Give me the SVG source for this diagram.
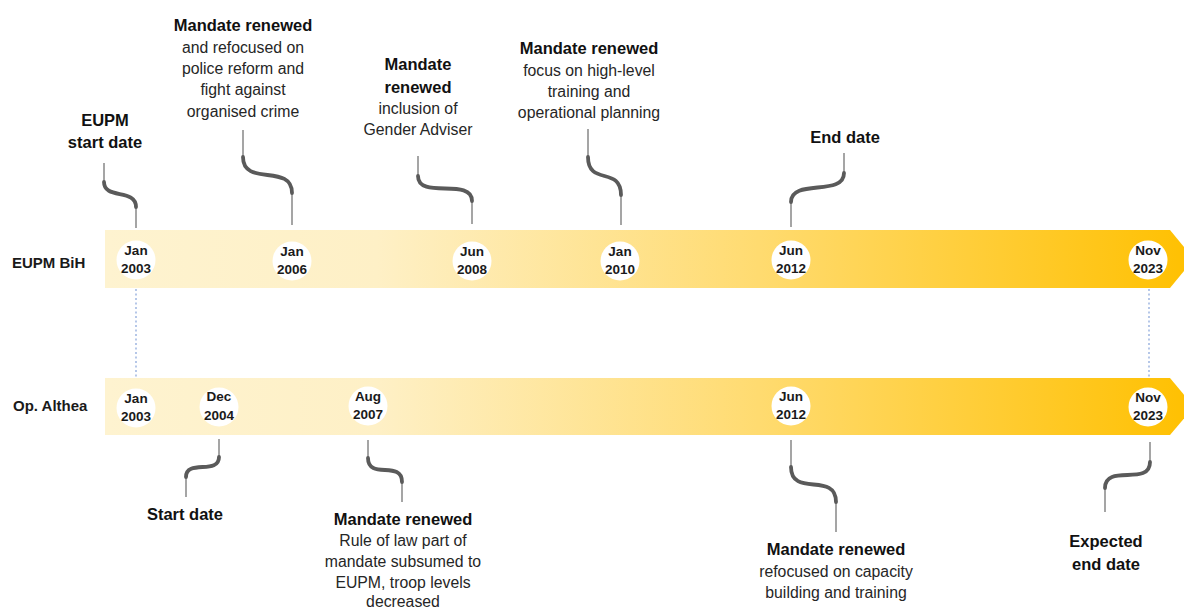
<svg xmlns="http://www.w3.org/2000/svg" width="1184" height="610" viewBox="0 0 1184 610">
<defs>
<linearGradient id="bar" x1="105" y1="0" x2="1194" y2="0" gradientUnits="userSpaceOnUse">
<stop offset="0" stop-color="#fef3d0"/>
<stop offset="0.25" stop-color="#fef0c6"/>
<stop offset="0.6" stop-color="#ffdb70"/>
<stop offset="1" stop-color="#ffc000"/>
</linearGradient>
<style>
.bar{fill:url(#bar)}
.dot{fill:#ffffff}
.date{font-family:"Liberation Sans",Arial,sans-serif;font-weight:bold;font-size:13.5px;fill:#1a1a1a;text-anchor:middle}
.row{font-family:"Liberation Sans",Arial,sans-serif;font-weight:bold;font-size:15px;fill:#1a1a1a}
.h{font-family:"Liberation Sans",Arial,sans-serif;font-weight:bold;font-size:16.5px;fill:#111111;text-anchor:middle}
.b{font-family:"Liberation Sans",Arial,sans-serif;font-size:15.8px;fill:#262626;text-anchor:middle}
.thin{fill:none;stroke:#8f8f8f;stroke-width:1.6}
.thick{fill:none;stroke:#5a5a5a;stroke-width:3.8;stroke-linecap:round}
.guide{fill:none;stroke:#8faadc;stroke-width:1.3;stroke-dasharray:2 2.5}
</style>
</defs>
<rect width="1184" height="610" fill="#ffffff"/>

<g id="guides">
<line class="guide" x1="136" y1="289" x2="136" y2="378"/>
<line class="guide" x1="1149" y1="289" x2="1149" y2="378"/>
</g>

<g id="track-eupm">
<polygon class="bar" points="105,230 1170,230 1194,259 1170,288 105,288"/>
<text class="row" x="12" y="268">EUPM BiH</text>
</g>
<g id="track-althea">
<polygon class="bar" points="105,378 1170,378 1194,406.5 1170,435 105,435"/>
<text class="row" x="13" y="411">Op. Althea</text>
</g>

<g id="dates-eupm">
<g id="e-jan2003"><circle class="dot" cx="136" cy="260" r="19.5"/><text class="date" x="136" y="255">Jan</text><text class="date" x="136" y="273">2003</text></g>
<g id="e-jan2006"><circle class="dot" cx="292" cy="261" r="19.5"/><text class="date" x="292" y="256">Jan</text><text class="date" x="292" y="274">2006</text></g>
<g id="e-jun2008"><circle class="dot" cx="472" cy="261" r="19.5"/><text class="date" x="472" y="256">Jun</text><text class="date" x="472" y="274">2008</text></g>
<g id="e-jan2010"><circle class="dot" cx="620" cy="261" r="19.5"/><text class="date" x="620" y="256">Jan</text><text class="date" x="620" y="274">2010</text></g>
<g id="e-jun2012"><circle class="dot" cx="791" cy="260" r="19.5"/><text class="date" x="791" y="255">Jun</text><text class="date" x="791" y="273">2012</text></g>
<g id="e-nov2023"><circle class="dot" cx="1148" cy="260" r="19.5"/><text class="date" x="1148" y="255">Nov</text><text class="date" x="1148" y="273">2023</text></g>
</g>

<g id="dates-althea">
<g id="a-jan2003"><circle class="dot" cx="136" cy="408" r="19.5"/><text class="date" x="136" y="403">Jan</text><text class="date" x="136" y="421">2003</text></g>
<g id="a-dec2004"><circle class="dot" cx="219" cy="407" r="19.5"/><text class="date" x="219" y="401">Dec</text><text class="date" x="219" y="420">2004</text></g>
<g id="a-aug2007"><circle class="dot" cx="368" cy="406" r="19.5"/><text class="date" x="368" y="401">Aug</text><text class="date" x="368" y="419">2007</text></g>
<g id="a-jun2012"><circle class="dot" cx="791" cy="406" r="19.5"/><text class="date" x="791" y="401">Jun</text><text class="date" x="791" y="419">2012</text></g>
<g id="a-nov2023"><circle class="dot" cx="1148" cy="407" r="19.5"/><text class="date" x="1148" y="402">Nov</text><text class="date" x="1148" y="420">2023</text></g>
</g>

<g id="connectors">
<path class="thin" d="M104,163 V182 M136,207 V228"/>
<path class="thick" d="M104,182 C104,200 136,188 136,207"/>
<path class="thin" d="M243,130 V157 M292,193 V225"/>
<path class="thick" d="M243,157 C243,187 292,163 292,193"/>
<path class="thin" d="M418,156 V176 M472,201 V224"/>
<path class="thick" d="M418,176 C418,200 472,177 472,201"/>
<path class="thin" d="M588,129 V157 M621,195 V225"/>
<path class="thick" d="M588,157 C588,186 621,166 621,195"/>
<path class="thin" d="M844,153 V173 M791,202 V227"/>
<path class="thick" d="M844,173 C844,197 791,178 791,202"/>
<path class="thin" d="M219,439 V457 M186,477 V497"/>
<path class="thick" d="M219,457 C219,475 186,459 186,477"/>
<path class="thin" d="M368,440 V458 M402,482 V502"/>
<path class="thick" d="M368,458 C368,480 402,460 402,482"/>
<path class="thin" d="M791,440 V467 M836,502 V532"/>
<path class="thick" d="M791,467 C791,498 836,471 836,502"/>
<path class="thin" d="M1150,442 V462 M1105,488 V512"/>
<path class="thick" d="M1150,462 C1150,487 1105,463 1105,488"/>
</g>

<g id="callout-eupm-start">
<text class="h" x="105" y="126">EUPM</text>
<text class="h" x="105" y="148">start date</text>
</g>
<g id="callout-2006">
<text class="h" x="243" y="31">Mandate renewed</text>
<text class="b" x="243" y="53">and refocused on</text>
<text class="b" x="243" y="74">police reform and</text>
<text class="b" x="243" y="95">fight against</text>
<text class="b" x="243" y="117">organised crime</text>
</g>
<g id="callout-2008">
<text class="h" x="418" y="70">Mandate</text>
<text class="h" x="418" y="93">renewed</text>
<text class="b" x="418" y="114">inclusion of</text>
<text class="b" x="418" y="135">Gender Adviser</text>
</g>
<g id="callout-2010">
<text class="h" x="589" y="54">Mandate renewed</text>
<text class="b" x="589" y="76">focus on high-level</text>
<text class="b" x="589" y="97">training and</text>
<text class="b" x="589" y="118">operational planning</text>
</g>
<g id="callout-end">
<text class="h" x="845" y="143">End date</text>
</g>
<g id="callout-althea-start">
<text class="h" x="185" y="520">Start date</text>
</g>
<g id="callout-2007">
<text class="h" x="403" y="525">Mandate renewed</text>
<text class="b" x="403" y="546">Rule of law part of</text>
<text class="b" x="403" y="567">mandate subsumed to</text>
<text class="b" x="403" y="588">EUPM, troop levels</text>
<text class="b" x="403" y="607">decreased</text>
</g>
<g id="callout-2012">
<text class="h" x="836" y="555">Mandate renewed</text>
<text class="b" x="836" y="577">refocused on capacity</text>
<text class="b" x="836" y="598">building and training</text>
</g>
<g id="callout-expected">
<text class="h" x="1106" y="547">Expected</text>
<text class="h" x="1106" y="570">end date</text>
</g>
</svg>
